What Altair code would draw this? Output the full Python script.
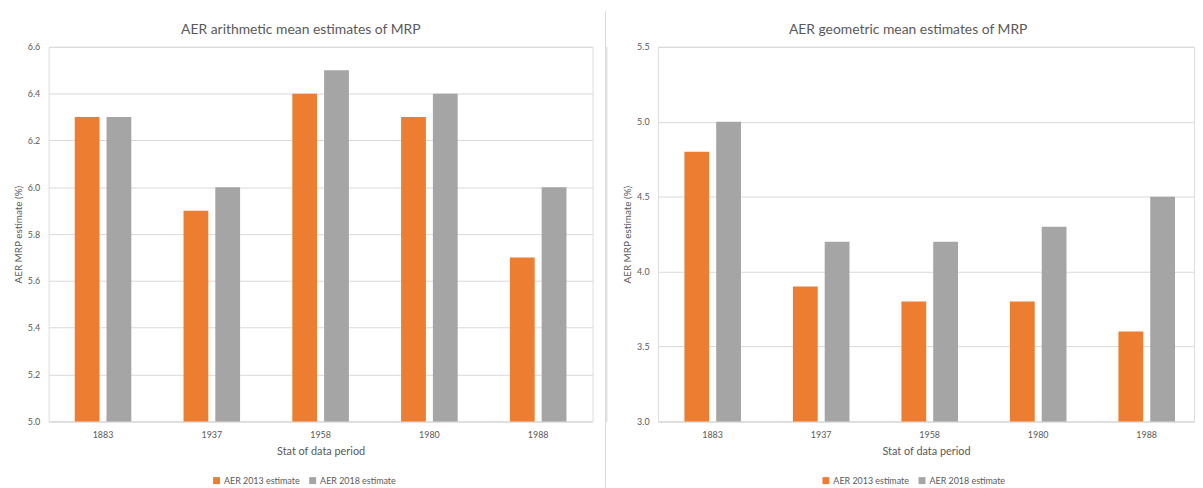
import altair as alt
import pandas as pd

years = ["1883", "1937", "1958", "1980", "1988"]
series = ["AER 2013 estimate", "AER 2018 estimate"]
arith_2013 = [6.3, 5.9, 6.4, 6.3, 5.7]
arith_2018 = [6.3, 6.0, 6.5, 6.4, 6.0]
geo_2013 = [4.8, 3.9, 3.8, 3.8, 3.6]
geo_2018 = [5.0, 4.2, 4.2, 4.3, 4.5]
arith_ticks = [5.0, 5.2, 5.4, 5.6, 5.8, 6.0, 6.2, 6.4, 6.6]
geo_ticks = [3.0, 3.5, 4.0, 4.5, 5.0, 5.5]
colors = ["#ED7D31", "#A5A5A5"]

FONT = "Lato"
TXT = "#595959"
GRID = "#D9D9D9"
PLOT_H = 378


def panel(title, v13, v18, ticks, width, pad_outer, align, title_dx):
    df = pd.DataFrame({
        "year": years * 2,
        "series": [series[0]] * len(years) + [series[1]] * len(years),
        "value": v13 + v18,
    })
    return alt.Chart(df).mark_bar().encode(
        x=alt.X("year:N", sort=years, title="Stat of data period",
                scale=alt.Scale(paddingInner=0.48, paddingOuter=pad_outer, align=align),
                axis=alt.Axis(labelAngle=0, labelFontSize=9, labelColor=TXT, labelFont=FONT,
                              titleFontSize=11, titleColor=TXT, titleFont=FONT, titleFontWeight="normal",
                              ticks=False, grid=False, domain=True, domainColor=GRID,
                              labelPadding=9, titlePadding=6)),
        xOffset=alt.XOffset("series:N", sort=series, scale=alt.Scale(paddingInner=0.22)),
        y=alt.Y("value:Q", stack=None,
                scale=alt.Scale(domain=[ticks[0], ticks[-1]], zero=False, nice=False),
                title="AER MRP estimate (%)",
                axis=alt.Axis(values=ticks, format=".1f", labelFontSize=9, labelColor=TXT, labelFont=FONT,
                              titleFontSize=10, titleColor=TXT, titleFont=FONT, titleFontWeight="normal",
                              ticks=False, domain=False, gridColor=GRID, labelPadding=9, titlePadding=4)),
        color=alt.Color("series:N", sort=series,
                        scale=alt.Scale(domain=series, range=colors),
                        legend=alt.Legend(title=None, orient="none", direction="horizontal",
                                          legendX=165, legendY=433,
                                          symbolType="square", symbolSize=49, symbolStrokeWidth=0,
                                          labelFontSize=9, labelColor=TXT, labelFont=FONT,
                                          labelOffset=3, columnPadding=8)),
    ).properties(
        width=width, height=PLOT_H,
        title=alt.TitleParams(title, fontSize=14, font=FONT, color=TXT, fontWeight="normal",
                              anchor="middle", dx=title_dx, offset=6),
    )


left = panel("AER arithmetic mean estimates of MRP", arith_2013, arith_2018, arith_ticks, 549, 0.24, 0.5, -20)
right = panel("AER geometric mean estimates of MRP", geo_2013, geo_2018, geo_ticks, 541, 0.21, 0.58, -18)

divider = alt.Chart(pd.DataFrame({"d": [0]})).mark_rule(color=GRID, strokeWidth=1).encode(
    x=alt.value(0), y=alt.value(-36), y2=alt.value(445)).properties(width=1, height=PLOT_H)

chart = alt.hconcat(
    alt.hconcat(left, divider, spacing=11), right, spacing=14
).resolve_legend(color="independent").configure_view(
    stroke=None).configure(padding={"left": 4, "top": 0, "right": 0, "bottom": 0}, background="white")

chart.save("out.html", embed_options={"renderer": "svg", "actions": False})
